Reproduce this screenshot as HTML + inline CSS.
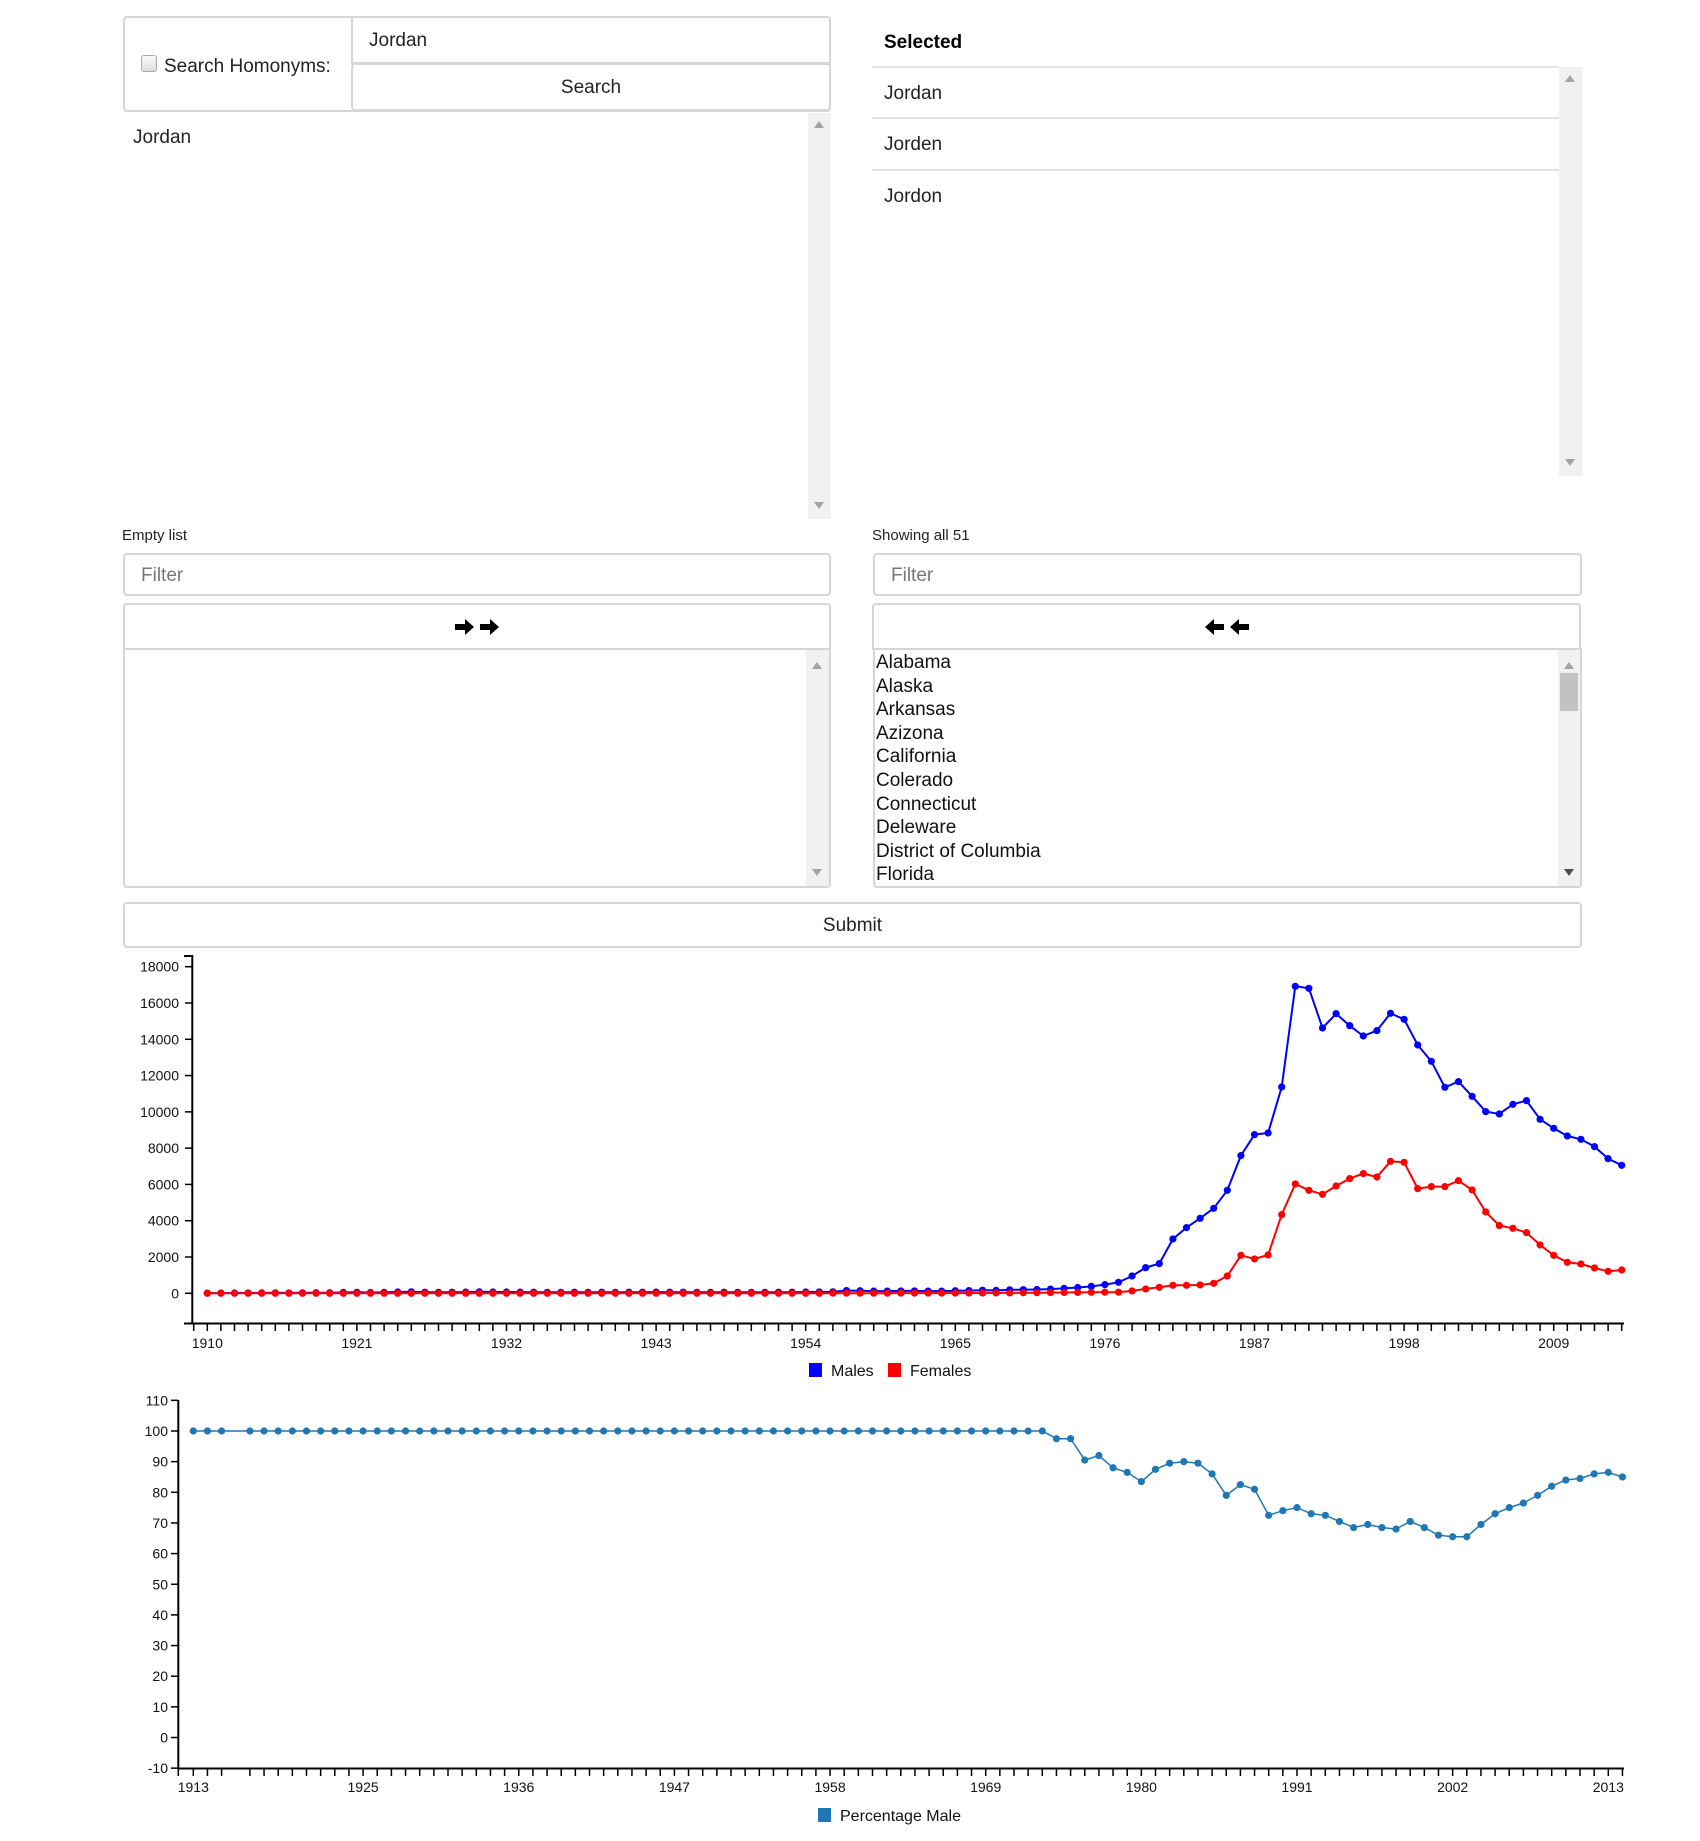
<!DOCTYPE html>
<html><head><meta charset="utf-8">
<style>
body{margin:0;width:1700px;height:1841px;background:#fff;position:relative;overflow:hidden;font-family:"Liberation Sans",Arial,sans-serif;color:#222}
.a{position:absolute;box-sizing:border-box}
.bd{border:2px solid #d6d6d6;border-radius:4px;background:#fff}
.t{position:absolute;white-space:nowrap}
.sb{position:absolute;background:#f1f1f1}
.up,.dn{position:absolute;left:6px;width:0;height:0;border-left:5px solid transparent;border-right:5px solid transparent}
.up{border-bottom:7px solid #a3a3a3}
.dn{border-top:7px solid #a3a3a3}
svg text{font-family:"Liberation Sans",Arial,sans-serif}
</style></head><body>

<div class="a bd" style="left:123px;top:16px;width:708px;height:96px"></div>
<div class="a" style="left:141px;top:55px;width:16px;height:17px;border:1px solid #aaa;border-radius:3px;background:linear-gradient(#fafafa,#ddd)"></div>
<div class="t" style="left:164px;top:56px;font-size:19px">Search Homonyms:</div>
<div class="a bd" style="left:351px;top:16px;width:480px;height:48px;border-radius:0 4px 0 0"><span class="t" style="left:16px;top:12px;font-size:19px">Jordan</span></div>
<div class="a bd" style="left:351px;top:63px;width:480px;height:48px"><span class="t" style="left:0;right:0;text-align:center;top:12px;font-size:19px">Search</span></div>
<div class="a" style="left:123px;top:113px;width:708px;height:406px;background:#fff"></div>
<div class="t" style="left:133px;top:127px;font-size:19px">Jordan</div>
<div class="sb" style="left:808px;top:113px;width:23px;height:406px"><div class="up" style="top:8px"></div><div class="dn" style="bottom:10px"></div></div>

<div class="t" style="left:884px;top:32px;font-size:19px;font-weight:bold;color:#000">Selected</div>
<div class="a" style="left:872px;top:66px;width:687px;height:410px;border-top:2px solid #e2e2e2"></div>
<div class="a" style="left:872px;top:117px;width:687px;height:2px;background:#e2e2e2"></div>
<div class="a" style="left:872px;top:169px;width:687px;height:2px;background:#e2e2e2"></div>
<div class="t" style="left:884px;top:83px;font-size:19px">Jordan</div>
<div class="t" style="left:884px;top:134px;font-size:19px">Jorden</div>
<div class="t" style="left:884px;top:186px;font-size:19px">Jordon</div>
<div class="sb" style="left:1559px;top:67px;width:24px;height:409px"><div class="up" style="top:8px"></div><div class="dn" style="bottom:10px"></div></div>

<div class="t" style="left:122px;top:527px;font-size:15px">Empty list</div>
<div class="t" style="left:872px;top:527px;font-size:15px">Showing all 51</div>
<div class="a bd" style="left:123px;top:553px;width:708px;height:43px"><span class="t" style="left:16px;top:10px;font-size:19px;color:#777">Filter</span></div>
<div class="a bd" style="left:873px;top:553px;width:709px;height:43px"><span class="t" style="left:16px;top:10px;font-size:19px;color:#777">Filter</span></div>
<div class="a bd" style="left:123px;top:603px;width:708px;height:47px;border-radius:4px 4px 0 0">
<svg style="position:absolute;left:329px;top:14px" width="50" height="16" viewBox="0 0 50 16"><path d="M1 5h10V0l9 8-9 8v-5H1z M26 5h10V0l9 8-9 8v-5H26z" fill="#000"/></svg></div>
<div class="a bd" style="left:872px;top:603px;width:709px;height:47px;border-radius:4px 4px 0 0">
<svg style="position:absolute;left:330px;top:14px" width="50" height="16" viewBox="0 0 50 16"><path d="M20 5H10V0L1 8l9 8v-5h10z M45 5H35V0l-9 8 9 8v-5h10z" fill="#000"/></svg></div>
<div class="a bd" style="left:123px;top:648px;width:708px;height:240px;border-radius:0 0 4px 4px"></div>
<div class="sb" style="left:806px;top:650px;width:23px;height:236px"><div class="up" style="top:12px"></div><div class="dn" style="bottom:10px"></div></div>
<div class="a bd" style="left:873px;top:648px;width:709px;height:240px;border-radius:0 0 4px 4px;overflow:hidden">
<div style="position:absolute;left:1px;top:1px;font-size:19px;line-height:23.6px;color:#111">
<div>Alabama</div>
<div>Alaska</div>
<div>Arkansas</div>
<div>Azizona</div>
<div>California</div>
<div>Colerado</div>
<div>Connecticut</div>
<div>Deleware</div>
<div>District of Columbia</div>
<div>Florida</div>
</div></div>
<div class="sb" style="left:1558px;top:650px;width:22px;height:236px"><div class="up" style="top:12px"></div><div style="position:absolute;left:2px;top:23px;width:18px;height:38px;background:#c1c1c1"></div><div class="dn" style="bottom:10px;border-top-color:#505050"></div></div>
<div class="a bd" style="left:123px;top:902px;width:1459px;height:46px"><span class="t" style="left:0;right:0;text-align:center;top:11px;font-size:19px">Submit</span></div>

<svg id="chart1" width="1700" height="1841" style="position:absolute;left:0;top:0" xmlns="http://www.w3.org/2000/svg"></svg>

<script>
// ---- Chart 1 data ----
const years1 = [1910,1911,1912,1913,1914,1915,1916,1917,1918,1919,1920,1921,1922,1923,1924,1925,1926,1927,1928,1929,1930,1931,1932,1933,1934,1935,1936,1937,1938,1939,1940,1941,1942,1943,1944,1945,1946,1947,1948,1949,1950,1951,1952,1953,1954,1955,1956,1957,1958,1959,1960,1961,1962,1963,1964,1965,1966,1967,1968,1969,1970,1971,1972,1973,1974,1975,1976,1977,1978,1979,1980,1981,1982,1983,1984,1985,1986,1987,1988,1989,1990,1991,1992,1993,1994,1995,1996,1997,1998,1999,2000,2001,2002,2003,2004,2005,2006,2007,2008,2009,2010,2011,2012,2013,2014];
const males = [10,12,15,20,22,25,20,25,30,35,50,55,45,55,70,80,60,55,60,65,80,70,70,65,60,55,55,60,55,60,55,60,60,65,60,60,55,55,60,55,55,55,60,60,70,75,80,150,140,120,120,130,130,120,120,140,150,170,160,190,200,210,230,270,320,380,478,606,955,1414,1635,2994,3619,4133,4684,5676,7587,8744,8836,11371,16919,16809,14622,15412,14751,14182,14476,15431,15100,13686,12786,11353,11666,10857,10012,9883,10416,10618,9589,9093,8671,8487,8083,7421,7054];
const females = [0,0,0,0,0,0,0,0,0,0,0,0,0,0,0,0,0,0,0,0,0,0,0,0,0,0,0,0,0,0,0,0,0,0,0,0,0,0,0,0,0,0,0,0,0,0,5,5,5,5,5,10,10,10,10,10,15,15,20,20,30,35,40,45,50,55,60,60,130,240,330,440,440,460,550,955,2094,1892,2113,4335,6025,5676,5456,5915,6319,6595,6411,7275,7220,5768,5878,5878,6209,5695,4482,3729,3582,3343,2664,2094,1708,1617,1396,1212,1286];
const yTicks1 = [0,2000,4000,6000,8000,10000,12000,14000,16000,18000];
const xLabels1 = [1910,1921,1932,1943,1954,1965,1976,1987,1998,2009];
// ---- Chart 2 data ----
const years2 = [1913,1914,1915,1917,1918,1919,1920,1921,1922,1923,1924,1925,1926,1927,1928,1929,1930,1931,1932,1933,1934,1935,1936,1937,1938,1939,1940,1941,1942,1943,1944,1945,1946,1947,1948,1949,1950,1951,1952,1953,1954,1955,1956,1957,1958,1959,1960,1961,1962,1963,1964,1965,1966,1967,1968,1969,1970,1971,1972,1973,1974,1975,1976,1977,1978,1979,1980,1981,1982,1983,1984,1985,1986,1987,1988,1989,1990,1991,1992,1993,1994,1995,1996,1997,1998,1999,2000,2001,2002,2003,2004,2005,2006,2007,2008,2009,2010,2011,2012,2013,2014];
const pctMale = [100,100,100,100,100,100,100,100,100,100,100,100,100,100,100,100,100,100,100,100,100,100,100,100,100,100,100,100,100,100,100,100,100,100,100,100,100,100,100,100,100,100,100,100,100,100,100,100,100,100,100,100,100,100,100,100,100,100,100,100,97.5,97.5,90.5,92,88,86.5,83.5,87.5,89.5,90,89.5,86,79,82.5,81,72.5,74,75,73,72.5,70.5,68.5,69.5,68.5,68,70.5,68.5,66,65.5,65.5,69.5,73,75,76.5,79,82,84,84.5,86,86.5,85];
const yTicks2 = [-10,0,10,20,30,40,50,60,70,80,90,100,110];
const xLabels2 = [1913,1925,1936,1947,1958,1969,1980,1991,2002,2013];

const NS = "http://www.w3.org/2000/svg";
const svg = document.getElementById('chart1');
function mk(tag, attrs, parent){const e=document.createElementNS(NS,tag);for(const k in attrs)e.setAttribute(k,attrs[k]);(parent||svg).appendChild(e);return e;}
function txt(s, attrs){const e=mk('text',attrs);e.textContent=s;return e;}

// Chart 1 scales
const x1 = yr => 207.3 + (yr-1910)*13.6;
const y1 = v => 1293.3 - v*(326.6/18000);
let ax = mk('line',{x1:192.3,y1:955,x2:192.3,y2:1323.5,stroke:'#000','stroke-width':2});


ax = mk('line',{x1:184,y1:1323.5,x2:1624,y2:1323.5,stroke:'#000','stroke-width':2});


mk('line',{x1:184,y1:956,x2:192,y2:956,stroke:'#000','stroke-width':2});
yTicks1.forEach(v=>{
  mk('line',{x1:185,y1:y1(v),x2:192,y2:y1(v),stroke:'#000','stroke-width':1.5});
  const t=txt(String(v),{x:179,y:y1(v)+5,'text-anchor':'end','font-size':14,fill:'#111'});
  
  
});
for(let yr=1909; yr<=2014; yr++){
  mk('line',{x1:x1(yr),y1:1323.5,x2:x1(yr),y2:1331,stroke:'#000','stroke-width':1.5});
}
xLabels1.forEach(yr=>{
  const t=txt(String(yr),{x:x1(yr),y:1348,'text-anchor':'middle','font-size':14,fill:'#111'});
  
  
});
function series(xs, ys, xf, yf, color, name, r, sw){
  const d = xs.map((yr,i)=>(i?'L':'M')+xf(yr).toFixed(1)+','+yf(ys[i]).toFixed(1)).join('');
  const p = mk('path',{d:d,fill:'none',stroke:color,'stroke-width':sw});
  
  
  xs.forEach((yr,i)=>{
    const c = mk('circle',{cx:xf(yr),cy:yf(ys[i]),r:r,fill:color});
    
    
  });
}
series(years1, males, x1, y1, '#0000ff', 'males', 3.6, 2);
series(years1, females, x1, y1, '#ff0000', 'females', 3.6, 2);
let lg = mk('rect',{x:809,y:1363,width:13,height:14,fill:'#0000ff'});


lg = txt('Males',{x:831,y:1376,'font-size':16,fill:'#111'});


lg = mk('rect',{x:888,y:1363,width:13,height:14,fill:'#ff0000'});


lg = txt('Females',{x:910,y:1376,'font-size':16,fill:'#111'});



// Chart 2 scales
const x2 = yr => 193.3 + (yr-1913)*14.15;
const y2 = v => 1431 - (v-100)*3.065;
ax = mk('line',{x1:178.3,y1:1400,x2:178.3,y2:1769,stroke:'#000','stroke-width':2});


ax = mk('line',{x1:178.3,y1:1768.5,x2:1624,y2:1768.5,stroke:'#000','stroke-width':2});


yTicks2.forEach(v=>{
  mk('line',{x1:171,y1:y2(v),x2:178,y2:y2(v),stroke:'#000','stroke-width':1.5});
  const t=txt(String(v),{x:168,y:y2(v)+5,'text-anchor':'end','font-size':14,fill:'#111'});
  
  
});
mk('line',{x1:178.3,y1:1768.5,x2:178.3,y2:1776,stroke:'#000','stroke-width':1.5});
years2.forEach(yr=>{
  mk('line',{x1:x2(yr),y1:1768.5,x2:x2(yr),y2:1776,stroke:'#000','stroke-width':1.5});
});
xLabels2.forEach(yr=>{
  const t=txt(String(yr),{x:x2(yr),y:1792,'text-anchor':'middle','font-size':14,fill:'#111'});
  
  
});
series(years2, pctMale, x2, y2, '#1f77b4', 'percentage-male', 3.6, 1.5);
lg = mk('rect',{x:818,y:1808,width:13,height:14,fill:'#1f77b4'});


lg = txt('Percentage Male',{x:840,y:1821,'font-size':16,fill:'#111'});


</script>
</body></html>
